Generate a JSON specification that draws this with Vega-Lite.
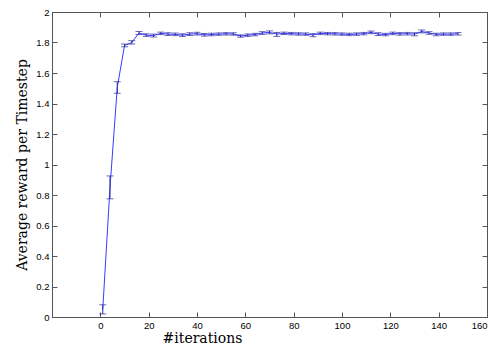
{
  "$schema": "https://vega.github.io/schema/vega-lite/v6.json",
  "width": 435,
  "height": 305,
  "autosize": "none",
  "padding": {"left": 52, "top": 12, "right": 8, "bottom": 35},
  "background": "white",
  "config": {
    "view": {"stroke": "#555", "strokeWidth": 1},
    "axis": {
      "grid": false,
      "domainColor": "#555",
      "tickColor": "#555",
      "tickSize": -5,
      "labelFont": "Liberation Sans",
      "labelFontSize": 9.5,
      "labelColor": "#000",
      "titleFont": "DejaVu Serif",
      "titleFontWeight": "normal",
      "titleFontSize": 14,
      "titleColor": "#000"
    }
  },
  "data": {"values": [
    {"x": 1, "y": 0.05, "lo": 0.02, "hi": 0.08},
    {"x": 4, "y": 0.85, "lo": 0.775, "hi": 0.925},
    {"x": 7, "y": 1.505, "lo": 1.467, "hi": 1.543},
    {"x": 10, "y": 1.78, "lo": 1.772, "hi": 1.79},
    {"x": 13, "y": 1.8, "lo": 1.79, "hi": 1.812},
    {"x": 16, "y": 1.862, "lo": 1.852, "hi": 1.872},
    {"x": 19, "y": 1.848, "lo": 1.84, "hi": 1.857},
    {"x": 22, "y": 1.845, "lo": 1.836, "hi": 1.855},
    {"x": 25, "y": 1.86, "lo": 1.852, "hi": 1.868},
    {"x": 28, "y": 1.855, "lo": 1.846, "hi": 1.864},
    {"x": 31, "y": 1.853, "lo": 1.845, "hi": 1.862},
    {"x": 34, "y": 1.848, "lo": 1.84, "hi": 1.857},
    {"x": 37, "y": 1.855, "lo": 1.846, "hi": 1.864},
    {"x": 40, "y": 1.858, "lo": 1.849, "hi": 1.867},
    {"x": 43, "y": 1.85, "lo": 1.842, "hi": 1.859},
    {"x": 46, "y": 1.852, "lo": 1.844, "hi": 1.861},
    {"x": 49, "y": 1.855, "lo": 1.847, "hi": 1.863},
    {"x": 52, "y": 1.857, "lo": 1.849, "hi": 1.865},
    {"x": 55, "y": 1.856, "lo": 1.848, "hi": 1.864},
    {"x": 58, "y": 1.842, "lo": 1.835, "hi": 1.85},
    {"x": 61, "y": 1.848, "lo": 1.84, "hi": 1.856},
    {"x": 64, "y": 1.852, "lo": 1.844, "hi": 1.86},
    {"x": 67, "y": 1.862, "lo": 1.853, "hi": 1.871},
    {"x": 70, "y": 1.866, "lo": 1.857, "hi": 1.876},
    {"x": 73, "y": 1.855, "lo": 1.84, "hi": 1.866},
    {"x": 76, "y": 1.86, "lo": 1.852, "hi": 1.868},
    {"x": 79, "y": 1.858, "lo": 1.85, "hi": 1.866},
    {"x": 82, "y": 1.856, "lo": 1.848, "hi": 1.864},
    {"x": 85, "y": 1.855, "lo": 1.847, "hi": 1.863},
    {"x": 88, "y": 1.85, "lo": 1.838, "hi": 1.858},
    {"x": 91, "y": 1.86, "lo": 1.852, "hi": 1.868},
    {"x": 94, "y": 1.858, "lo": 1.85, "hi": 1.866},
    {"x": 97, "y": 1.857, "lo": 1.849, "hi": 1.865},
    {"x": 100, "y": 1.855, "lo": 1.847, "hi": 1.863},
    {"x": 103, "y": 1.853, "lo": 1.845, "hi": 1.861},
    {"x": 106, "y": 1.855, "lo": 1.847, "hi": 1.863},
    {"x": 109, "y": 1.858, "lo": 1.85, "hi": 1.866},
    {"x": 112, "y": 1.866, "lo": 1.858, "hi": 1.875},
    {"x": 115, "y": 1.855, "lo": 1.846, "hi": 1.864},
    {"x": 118, "y": 1.852, "lo": 1.844, "hi": 1.86},
    {"x": 121, "y": 1.86, "lo": 1.851, "hi": 1.868},
    {"x": 124, "y": 1.857, "lo": 1.848, "hi": 1.865},
    {"x": 127, "y": 1.858, "lo": 1.849, "hi": 1.866},
    {"x": 130, "y": 1.855, "lo": 1.844, "hi": 1.864},
    {"x": 133, "y": 1.872, "lo": 1.863, "hi": 1.882},
    {"x": 136, "y": 1.862, "lo": 1.854, "hi": 1.871},
    {"x": 139, "y": 1.853, "lo": 1.844, "hi": 1.861},
    {"x": 142, "y": 1.855, "lo": 1.847, "hi": 1.863},
    {"x": 145, "y": 1.855, "lo": 1.847, "hi": 1.863},
    {"x": 148, "y": 1.857, "lo": 1.849, "hi": 1.865}
  ]},
  "layer": [
    {
      "mark": {"type": "line", "color": "#3a3aff", "strokeWidth": 1},
      "encoding": {
        "x": {"field": "x", "type": "quantitative", "scale": {"domain": [-20, 160], "nice": false},
              "axis": {"values": [0, 20, 40, 60, 80, 100, 120, 140, 160], "title": "#iterations", "titleX": 150, "labelPadding": 8, "titlePadding": 2}},
        "y": {"field": "y", "type": "quantitative", "scale": {"domain": [0, 2], "nice": false},
              "axis": {"values": [0, 0.2, 0.4, 0.6, 0.8, 1, 1.2, 1.4, 1.6, 1.8, 2], "format": "~g", "title": "Average reward per Timestep", "labelPadding": 8, "titlePadding": 6}}
      }
    },
    {
      "mark": {"type": "errorbar", "ticks": {"size": 7}, "color": "#2a2aa0", "thickness": 1},
      "encoding": {
        "x": {"field": "x", "type": "quantitative",
              "axis": {"orient": "top", "values": [0, 20, 40, 60, 80, 100, 120, 140, 160], "labels": false, "title": null, "domain": false}},
        "y": {"field": "lo", "type": "quantitative",
              "axis": {"orient": "right", "values": [0, 0.2, 0.4, 0.6, 0.8, 1, 1.2, 1.4, 1.6, 1.8, 2], "labels": false, "title": null, "domain": false}},
        "y2": {"field": "hi"}
      }
    }
  ],
  "resolve": {"axis": {"x": "independent", "y": "independent"}}
}
